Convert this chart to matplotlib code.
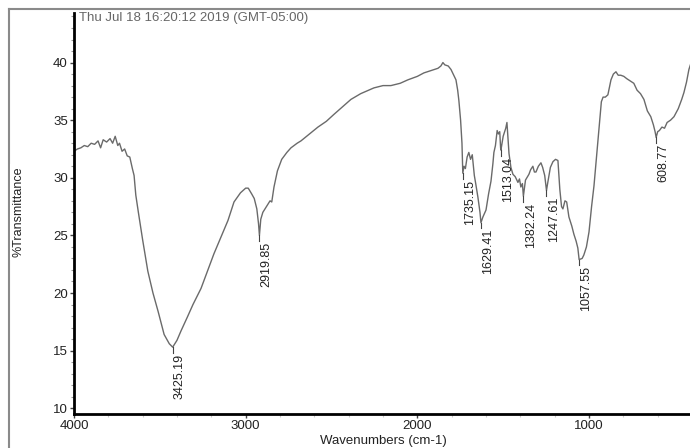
import numpy as np
import matplotlib
matplotlib.use("Agg")
import matplotlib.pyplot as plt
from matplotlib.ticker import MultipleLocator
from matplotlib.lines import Line2D

plt.rcParams["font.family"] = ["Liberation Sans", "DejaVu Sans"]

# ---- spectrum ----
wavenumber = [
    4000, 3980, 3960, 3940, 3920, 3900, 3880, 3860, 3845, 3830, 3810, 3790,
    3775, 3760, 3745, 3735, 3720, 3705, 3690, 3675, 3660, 3650, 3640, 3625,
    3600, 3570, 3540, 3510, 3475, 3445, 3425.19, 3400, 3377, 3340, 3307, 3260,
    3220, 3185, 3140, 3103, 3068, 3030, 3000, 2985, 2965, 2950, 2935, 2925,
    2919.85, 2912, 2900, 2875, 2858, 2848, 2835, 2815, 2790, 2760, 2736, 2700,
    2678, 2620, 2579, 2530, 2486, 2440, 2387, 2330, 2253, 2200, 2154, 2100,
    2055, 2000, 1962, 1920, 1880, 1863, 1851, 1840, 1820, 1804, 1785, 1775,
    1765, 1758, 1748, 1740, 1735.15, 1728, 1720, 1710, 1700, 1690, 1680, 1676,
    1668, 1660, 1647, 1635, 1629.41, 1618, 1600, 1585, 1571, 1560, 1554, 1545,
    1535, 1528, 1520, 1515, 1513.04, 1500, 1485, 1478, 1472, 1466, 1455, 1443,
    1430, 1414, 1405, 1397, 1388, 1382.24, 1370, 1350, 1340, 1327, 1318, 1309,
    1295, 1280, 1270, 1258, 1247.61, 1240, 1225, 1210, 1195, 1181, 1175, 1170,
    1160, 1152, 1140, 1130, 1117, 1100, 1088, 1075, 1065, 1057.55, 1040, 1030,
    1015, 1000, 985, 971, 958, 948, 937, 928, 918, 905, 890, 880,
    872, 858, 843, 830, 815, 797, 780, 760, 739, 720, 700, 680,
    660, 640, 625, 615, 608.77, 600, 590, 575, 560, 545, 525, 505,
    480, 460, 447, 432, 418, 405, 400,
]
transmittance = [
    32.3, 32.5, 32.6, 32.8, 32.7, 33.0, 32.9, 33.2, 32.6, 33.3, 33.1, 33.4,
    33.0, 33.6, 32.8, 33.0, 32.3, 32.5, 31.9, 31.8, 30.8, 30.2, 28.5, 27.0,
    24.6, 21.9, 20.0, 18.4, 16.4, 15.6, 15.3, 15.9, 16.7, 17.9, 19.0, 20.4,
    22.0, 23.4, 25.0, 26.3, 27.9, 28.7, 29.1, 29.1, 28.6, 28.2, 27.3, 26.0,
    25.0, 26.4, 27.0, 27.6, 28.0, 27.9, 29.2, 30.6, 31.6, 32.2, 32.6, 33.0,
    33.2, 33.9, 34.4, 34.9, 35.5, 36.1, 36.8, 37.3, 37.8, 38.0, 38.0, 38.2,
    38.5, 38.8, 39.1, 39.3, 39.5, 39.7, 40.0, 39.8, 39.7, 39.4, 38.8, 38.5,
    37.6, 36.7, 35.0, 33.0, 30.4, 31.0, 30.8, 31.8, 32.2, 31.6, 32.0, 31.4,
    30.2, 29.5, 28.3, 27.0, 26.1, 26.6, 27.2, 28.6, 29.7, 31.2, 32.2, 32.8,
    34.1, 33.8, 34.0, 32.6, 32.4, 33.6, 34.3, 34.8, 33.5, 32.1, 30.9, 30.3,
    30.1, 29.6, 29.9, 29.2, 29.5, 28.4, 29.8, 30.3, 30.7, 31.0, 30.5, 30.5,
    31.0, 31.3, 30.9, 30.2, 28.9, 29.6, 30.9, 31.4, 31.6, 31.5, 30.2, 29.0,
    27.5, 27.3, 28.0, 27.9, 26.6, 25.8, 25.1, 24.5, 23.9, 22.9, 23.0, 23.3,
    24.0, 25.3, 27.5, 29.3, 31.5, 33.2, 35.0, 36.6, 37.0, 37.0, 37.2, 37.9,
    38.5, 39.0, 39.2, 38.9, 38.9, 38.8, 38.6, 38.4, 38.2, 37.6, 37.3, 36.8,
    35.8, 35.3, 34.6, 34.0, 33.5, 34.0, 34.1, 34.4, 34.3, 34.8, 35.0, 35.3,
    36.0, 36.8, 37.4, 38.3, 39.4, 40.0, 40.2,
]

# peak picks
peak_wn = [3425.19, 2919.85, 1735.15, 1629.41, 1513.04, 1382.24, 1247.61, 1057.55, 608.77]
peak_t = [15.3, 25.0, 30.4, 26.1, 32.4, 28.4, 28.9, 22.9, 33.5]

W, H = 690, 448
fig = plt.figure(figsize=(W / 100, H / 100), dpi=100)

# axes box in pixels: left spine x=74, bottom y=414, top y=13, 400 cm-1 at x~692
ax = fig.add_axes([74 / W, 1 - 414 / H, (692 - 74) / W, (414 - 13) / H])
ax.plot(wavenumber, transmittance, color="#6a6a6a", lw=1.0)
ax.set_xlim(4000, 400)
ax.set_ylim(9.5, 44.3)

for s in ["top", "right"]:
    ax.spines[s].set_visible(False)
for s in ["left", "bottom"]:
    ax.spines[s].set_linewidth(2.0)
    ax.spines[s].set_color("black")

ax.xaxis.set_major_locator(MultipleLocator(1000))
ax.xaxis.set_minor_locator(MultipleLocator(200))
ax.yaxis.set_major_locator(MultipleLocator(5))
ax.yaxis.set_minor_locator(MultipleLocator(1))
ax.tick_params(axis="both", which="major", labelsize=9.5, length=3, width=1,
               color="#444", labelcolor="#222", pad=1.5)
ax.tick_params(axis="both", which="minor", length=2, width=0.8, color="#999")
ax.tick_params(axis="x", which="minor", color="#ccc")
ax.set_yticks([10, 15, 20, 25, 30, 35, 40])

# peak labels
for w, t in zip(peak_wn, peak_t):
    ax.plot([w, w], [t, t - 0.5], color="#444", lw=0.8)
    ax.text(w - 8, t - 0.55, f"{w:.2f}", rotation=90, ha="left", va="top",
            fontsize=9, color="#222")

# outer frame (gray lines at left and top)
fig.add_artist(Line2D([9 / W, 9 / W], [0, 1 - 9 / H], transform=fig.transFigure,
                      color="#8a8a8a", lw=1.5))
fig.add_artist(Line2D([9 / W, 1], [1 - 9 / H, 1 - 9 / H], transform=fig.transFigure,
                      color="#8a8a8a", lw=1.5))

fig.text(19 / W, 1 - 212 / H, "%Transmittance", rotation=90, ha="center", va="center",
         fontsize=9, color="#222",
         bbox=dict(facecolor="white", edgecolor="none", pad=2))
fig.text(383 / W, 1 - 441 / H, "Wavenumbers (cm-1)", ha="center", va="center",
         fontsize=9.5, color="#222")
fig.text(79 / W, 1 - 18 / H, "Thu Jul 18 16:20:12 2019 (GMT-05:00)", ha="left",
         va="center", fontsize=9.5, color="#666")

plt.savefig("out.png", dpi=100)
plt.close()
